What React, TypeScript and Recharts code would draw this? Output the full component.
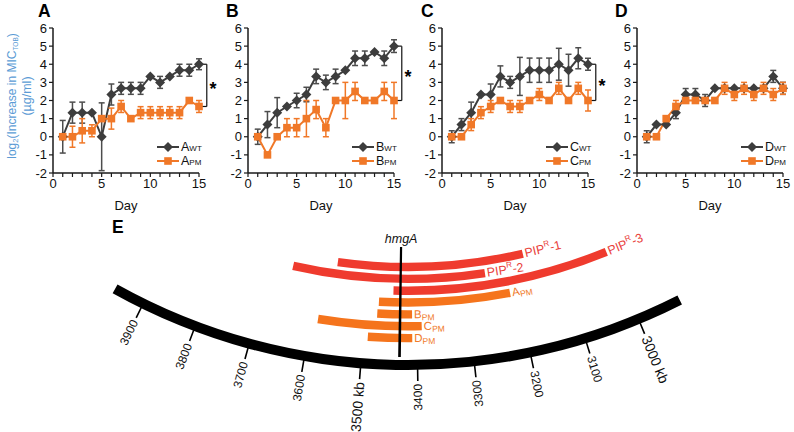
import React from 'react';
import {
  LineChart,
  Line,
  XAxis,
  YAxis,
  ErrorBar,
  ReferenceLine,
  ReferenceDot,
  PieChart,
  Pie,
} from 'recharts';

const FONT = '"Liberation Sans", Arial, Helvetica, sans-serif';

// ---------------- data: panels A-D ----------------
const days = [1, 2, 3, 4, 5, 6, 7, 8, 9, 10, 11, 12, 13, 14, 15];
const xTicks = [0, 1, 2, 3, 4, 5, 6, 7, 8, 9, 10, 11, 12, 13, 14, 15];
const yTicks = [-2, -1, 0, 1, 2, 3, 4, 5, 6];

const aWT = [0, 1.33, 1.33, 1.33, 0, 2.33, 2.67, 2.67, 2.67, 3.33, 3, 3.33, 3.67, 3.67, 4];
const aWTErr = [0.9, 0.58, 0.58, 0, 1.87, 0.58, 0.33, 0.33, 0.33, 0, 0.33, 0, 0.33, 0.33, 0.3];
const aPM = [0, 0, 0.33, 0.33, 1, 1, 1.67, 1, 1.33, 1.33, 1.33, 1.33, 1.33, 2, 1.67];
const aPMErr = [0, 0.58, 0.67, 0.33, 0, 0.58, 0.33, 0, 0.33, 0.33, 0.33, 0.33, 0.33, 0, 0.33];

const bWT = [0, 0.67, 1.33, 1.67, 2, 2.33, 3.33, 3, 3.33, 3.67, 4.33, 4.33, 4.67, 4.33, 5];
const bWTErr = [0.42, 0.72, 0.83, 0, 0.4, 0.4, 0.4, 0.4, 0.4, 0, 0.4, 0.4, 0, 0.4, 0.35];
const bPM = [0, -1, 0, 0.5, 0.5, 1, 1.5, 0.5, 2, 2, 2.5, 2, 2, 2.5, 2];
const bPMErr = [0, 0, 0, 0.5, 0.5, 1, 0.5, 0.5, 0, 1, 0.5, 0, 0, 0.5, 1];

const cWT = [0, 0.67, 1.33, 2.33, 2.33, 3.33, 3, 3.33, 3.67, 3.67, 3.67, 4, 3.67, 4.33, 4];
const cWTErr = [0.33, 0.33, 0.58, 0, 0.58, 0.58, 0.33, 1.05, 0.67, 0.67, 0.67, 0.88, 0.88, 0.58, 0.33];
const cPM = [0, 0, 0.67, 1.33, 1.67, 2, 1.67, 1.67, 2, 2.33, 2, 2.67, 2, 2.67, 2];
const cPMErr = [0, 0, 0.33, 0.33, 0.33, 0, 0.33, 0.33, 0, 0.33, 0, 0.33, 0, 0.33, 0.58];

const dWT = [0, 0.67, 0.67, 1.33, 2.33, 2.33, 2, 2.67, 2.67, 2.67, 2.67, 2.67, 2.67, 3.33, 2.67];
const dWTErr = [0.33, 0, 0, 0.33, 0.33, 0.33, 0.33, 0, 0, 0, 0, 0, 0, 0.33, 0.33];
const dPM = [0, 0, 1, 1.67, 2, 2, 2, 2, 2.67, 2.33, 2.67, 2.33, 2.67, 2.33, 2.67];
const dPMErr = [0, 0, 0, 0.33, 0, 0, 0, 0, 0.33, 0.33, 0.33, 0.33, 0.33, 0.33, 0.33];

const panelLetters = ['A', 'B', 'C', 'D'];
const panelWT = [aWT, bWT, cWT, dWT];
const panelWTErr = [aWTErr, bWTErr, cWTErr, dWTErr];
const panelPM = [aPM, bPM, cPM, dPM];
const panelPMErr = [aPMErr, bPMErr, cPMErr, dPMErr];
const panelSignificant = [true, true, true, false];

// ---------------- data: panel E ----------------
const genomeStartKb = 3956;
const genomeEndKb = 2920;
const genomeTicksKb = [3900, 3800, 3700, 3600, 3500, 3400, 3300, 3200, 3100, 3000];
const genomeTickText = ['3900', '3800', '3700', '3600', '3500 kb', '3400', '3300', '3200', '3100', '3000 kb'];
const hmgAKb = 3432;

const arcBase = ['PIP', 'PIP', 'PIP', 'A', 'B', 'C', 'D'];
const arcSup = ['R', 'R', 'R', '', '', '', ''];
const arcSuffix = ['-1', '-2', '-3', '', '', '', ''];
const arcSub = ['', '', '', 'PM', 'PM', 'PM', 'PM'];
const arcStartKb = [3565, 3655, 3446, 3474, 3476, 3587, 3491];
const arcEndKb = [3173, 3258, 3008, 3215, 3409, 3391, 3409];

// ---------------- style / layout ----------------
const WT_COLOR = '#3d3d3d';
const WT_ERR = '#4d4d4d';
const PM_COLOR = '#f07828';
const RED_ARC = '#ef3b2e';
const ORANGE_ARC = '#f5741c';
const RED_TEXT = '#e9403a';
const ORANGE_TEXT = '#f07a2a';
const AXIS_BLUE = '#5b9bd5';

const plotLefts = [53, 248, 442, 637];
const PLOT_W = 146;
const CH_W = 230;
const CH_H = 220;
const Y_AXIS_W = 30;

// genome circle geometry (layout)
const G_CX = 408;
const G_CY = -236;
const ANG_AT_3500 = -94.5;
const DEG_PER_KB = 0.0541;
const kbToAngle = (kb: number) => ANG_AT_3500 - (kb - 3500) * DEG_PER_KB;
const ringRadius = (i: number) => 503 + i * 11.85;
const RING_HALF = 4.2;

const RAD = Math.PI / 180;
const polar = (cx: number, cy: number, r: number, deg: number) => ({
  x: cx + r * Math.cos(-deg * RAD),
  y: cy + r * Math.sin(-deg * RAD),
});

// ---------------- markers ----------------
const Diamond = (props: any) => {
  const { cx, cy, index } = props;
  if (cx == null || cy == null) return <g key={`dn-${index}`} />;
  const s = 5;
  return (
    <polygon
      key={`dia-${index}`}
      points={`${cx},${cy - s} ${cx + s},${cy} ${cx},${cy + s} ${cx - s},${cy}`}
      fill={WT_COLOR}
    />
  );
};

const Square = (props: any) => {
  const { cx, cy, index } = props;
  if (cx == null || cy == null) return <g key={`sn-${index}`} />;
  const s = 3.8;
  return <rect key={`sq-${index}`} x={cx - s} y={cy - s} width={2 * s} height={2 * s} fill={PM_COLOR} />;
};

// ---------------- panel ----------------
function GrowthPanel({ idx }: { idx: number }) {
  const wt = panelWT[idx];
  const wtErr = panelWTErr[idx];
  const pm = panelPM[idx];
  const pmErr = panelPMErr[idx];
  const rows = days.map((d, i) => ({ day: d, wt: wt[i], wtErr: wtErr[i], pm: pm[i], pmErr: pmErr[i] }));
  const plotLeft = plotLefts[idx];
  const chartLeft = plotLeft - 53;
  const last = days.length - 1;
  const top = wt[last];
  const bottom = pm[last];
  const bx = 15.8;
  const bx0 = 15.3;
  return (
    <div style={{ position: 'absolute', left: chartLeft, top: 0 }}>
      <LineChart
        width={CH_W}
        height={CH_H}
        data={rows}
        margin={{ top: 28, right: CH_W - 53 - PLOT_W, bottom: 7, left: 53 - Y_AXIS_W }}
      >
        <XAxis
          dataKey="day"
          type="number"
          domain={[0, 15]}
          ticks={xTicks}
          interval={0}
          tickFormatter={(v: number) => (v % 5 === 0 ? String(v) : '')}
          height={40}
          axisLine={{ stroke: '#1a1a1a', strokeWidth: 1.5 }}
          tickLine={{ stroke: '#1a1a1a', strokeWidth: 1.2 }}
          tickSize={4}
          tickMargin={2}
          tick={{ fontSize: 13, fill: '#111' }}
          label={{ value: 'Day', position: 'insideBottom', offset: 3, fill: '#111', fontSize: 13 }}
        />
        <YAxis
          type="number"
          domain={[-2, 6]}
          ticks={yTicks}
          interval={0}
          width={Y_AXIS_W}
          axisLine={{ stroke: '#1a1a1a', strokeWidth: 1.5 }}
          tickLine={{ stroke: '#1a1a1a', strokeWidth: 1.2 }}
          tickSize={4}
          tickMargin={2}
          tick={{ fontSize: 13, fill: '#111' }}
        />
        <Line
          dataKey="wt"
          stroke={WT_COLOR}
          strokeWidth={2}
          dot={Diamond}
          activeDot={false}
          isAnimationActive={false}
        >
          <ErrorBar dataKey="wtErr" direction="y" width={3} strokeWidth={1.5} stroke={WT_ERR} />
        </Line>
        <Line
          dataKey="pm"
          stroke={PM_COLOR}
          strokeWidth={2}
          dot={Square}
          activeDot={false}
          isAnimationActive={false}
        >
          <ErrorBar dataKey="pmErr" direction="y" width={3} strokeWidth={1.5} stroke={PM_COLOR} />
        </Line>
        {panelSignificant[idx] && (
          <ReferenceLine
            segment={[{ x: bx, y: top }, { x: bx, y: bottom }]}
            stroke="#111"
            strokeWidth={1.2}
            ifOverflow="visible"
          />
        )}
        {panelSignificant[idx] && (
          <ReferenceLine
            segment={[{ x: bx0, y: top }, { x: bx, y: top }]}
            stroke="#111"
            strokeWidth={1.2}
            ifOverflow="visible"
          />
        )}
        {panelSignificant[idx] && (
          <ReferenceLine
            segment={[{ x: bx0, y: bottom }, { x: bx, y: bottom }]}
            stroke="#111"
            strokeWidth={1.2}
            ifOverflow="visible"
          />
        )}
        {panelSignificant[idx] && (
          <ReferenceDot
            x={bx + 0.65}
            y={(top + bottom) / 2 - 0.2}
            r={0}
            fill="none"
            stroke="none"
            ifOverflow="visible"
            label={{ value: '*', position: 'center', fontSize: 18, fontWeight: 700, fill: '#000' }}
          />
        )}
      </LineChart>
      <Legend letter={panelLetters[idx]} />
    </div>
  );
}

function LegendRow({ letter, kind, top }: { letter: string; kind: 'WT' | 'PM'; top: number }) {
  const color = kind === 'WT' ? WT_COLOR : PM_COLOR;
  return (
    <div
      style={{
        position: 'absolute',
        left: 0,
        top,
        height: 14,
        display: 'flex',
        alignItems: 'center',
        whiteSpace: 'nowrap',
      }}
    >
      <svg width={22} height={12} style={{ display: 'block' }}>
        <line x1={0} y1={6} x2={22} y2={6} stroke={color} strokeWidth={2} />
        {kind === 'WT' ? (
          <polygon points="11,1 16,6 11,11 6,6" fill={color} />
        ) : (
          <rect x={7.2} y={2.2} width={7.6} height={7.6} fill={color} />
        )}
      </svg>
      <span style={{ marginLeft: 2, fontSize: 12.5, lineHeight: '12px' }}>{letter}</span>
      <span style={{ fontSize: 8, lineHeight: '8px', position: 'relative', top: 1.5 }}>{kind}</span>
    </div>
  );
}

function Legend({ letter }: { letter: string }) {
  return (
    <div style={{ position: 'absolute', left: 53 + 104, top: 140, color: '#111', width: 60, height: 28 }}>
      <LegendRow letter={letter} kind="WT" top={0} />
      <LegendRow letter={letter} kind="PM" top={14} />
    </div>
  );
}

// ---------------- panel E labels ----------------
const renderTickLabel = (props: any) => {
  const d = props.payload ?? props;
  const ang = props.midAngle;
  const p = polar(props.cx, props.cy, props.outerRadius + 3, ang);
  const th = ang * RAD;
  const inward = d.kb >= 3300;
  const rot = inward
    ? Math.atan2(Math.sin(th), -Math.cos(th)) / RAD
    : Math.atan2(-Math.sin(th), Math.cos(th)) / RAD;
  const big = String(d.text).indexOf('kb') >= 0;
  return (
    <text
      key={`tl-${d.kb}`}
      x={p.x}
      y={p.y}
      transform={`rotate(${rot} ${p.x} ${p.y})`}
      textAnchor={inward ? 'end' : 'start'}
      dominantBaseline="central"
      fontSize={big ? 14 : 12}
      fill="#111"
      fontFamily={FONT}
    >
      {d.text}
    </text>
  );
};

const renderArcLabel = (props: any) => {
  const d = props.payload ?? props;
  const ang = props.endAngle;
  const r = (props.innerRadius + props.outerRadius) / 2;
  const th = ang * RAD;
  const tx = -Math.sin(th);
  const ty = -Math.cos(th);
  const base = polar(props.cx, props.cy, r, ang);
  const gap = 2;
  const x = base.x + tx * gap;
  const y = base.y + ty * gap;
  const rot = Math.atan2(ty, tx) / RAD;
  const isPip = d.sup !== '';
  return (
    <text
      key={`al-${d.base}-${d.suffix}`}
      x={x}
      y={y}
      transform={`rotate(${rot} ${x} ${y})`}
      textAnchor="start"
      dominantBaseline="central"
      fontSize={isPip ? 12.5 : 11.5}
      fill={isPip ? RED_TEXT : ORANGE_TEXT}
      fontFamily={FONT}
    >
      {d.base}
      {isPip ? (
        <>
          <tspan dy={-5} fontSize={8}>
            {d.sup}
          </tspan>
          <tspan dy={5}>{d.suffix}</tspan>
        </>
      ) : (
        <tspan dy={3} fontSize={8.5}>
          {d.sub}
        </tspan>
      )}
    </text>
  );
};

const renderHmgALabel = (props: any) => {
  const p = polar(props.cx, props.cy, props.innerRadius - 4, props.midAngle);
  return (
    <text
      key="hmga"
      x={p.x}
      y={p.y}
      textAnchor="middle"
      fontSize={12.5}
      fontStyle="italic"
      fill="#111"
      fontFamily={FONT}
    >
      hmgA
    </text>
  );
};

function GenomeMap() {
  const tickHalf = 0.075;
  const hmgHalf = 0.13;
  const hmgAng = kbToAngle(hmgAKb);
  return (
    <div style={{ position: 'absolute', left: 0, top: 0 }}>
      <PieChart width={794} height={432} margin={{ top: 0, right: 0, bottom: 0, left: 0 }}>
        <Pie
          data={[{ name: 'genome', value: 1 }]}
          dataKey="value"
          cx={G_CX}
          cy={G_CY}
          innerRadius={596}
          outerRadius={606}
          startAngle={kbToAngle(genomeStartKb)}
          endAngle={kbToAngle(genomeEndKb)}
          fill="#000"
          stroke="none"
          isAnimationActive={false}
        />
        {genomeTicksKb.map((kb, i) => (
          <Pie
            key={`tick-${kb}`}
            data={[{ name: genomeTickText[i], value: 1, kb, text: genomeTickText[i] }]}
            dataKey="value"
            cx={G_CX}
            cy={G_CY}
            innerRadius={605}
            outerRadius={617}
            startAngle={kbToAngle(kb) - tickHalf}
            endAngle={kbToAngle(kb) + tickHalf}
            fill="#000"
            stroke="none"
            label={renderTickLabel}
            labelLine={false}
            isAnimationActive={false}
          />
        ))}
        {arcBase.map((b, i) => (
          <Pie
            key={`arc-${i}`}
            data={[
              {
                name: `${b}${arcSup[i]}${arcSuffix[i]}${arcSub[i]}`,
                value: 1,
                base: b,
                sup: arcSup[i],
                suffix: arcSuffix[i],
                sub: arcSub[i],
              },
            ]}
            dataKey="value"
            cx={G_CX}
            cy={G_CY}
            innerRadius={ringRadius(i) - RING_HALF}
            outerRadius={ringRadius(i) + RING_HALF}
            startAngle={kbToAngle(arcStartKb[i])}
            endAngle={kbToAngle(arcEndKb[i])}
            fill={arcSup[i] !== '' ? RED_ARC : ORANGE_ARC}
            stroke="none"
            label={renderArcLabel}
            labelLine={false}
            isAnimationActive={false}
          />
        ))}
        <Pie
          data={[{ name: 'hmgA', value: 1 }]}
          dataKey="value"
          cx={G_CX}
          cy={G_CY}
          innerRadius={483}
          outerRadius={593}
          startAngle={hmgAng - hmgHalf}
          endAngle={hmgAng + hmgHalf}
          fill="#000"
          stroke="none"
          label={renderHmgALabel}
          labelLine={false}
          isAnimationActive={false}
        />
      </PieChart>
    </div>
  );
}

function Overlay() {
  const letterX = [38, 226, 421, 615];
  return (
    <svg
      width={794}
      height={432}
      style={{ position: 'absolute', left: 0, top: 0, pointerEvents: 'none' }}
      fontFamily={FONT}
    >
      {panelLetters.map((l, i) => (
        <text key={l} x={letterX[i]} y={17} fontSize={17.5} fontWeight={700} fill="#000">
          {l}
        </text>
      ))}
      <text x={112} y={233} fontSize={17.5} fontWeight={700} fill="#000">
        E
      </text>
      <text
        x={12}
        y={96}
        transform="rotate(-90 12 96)"
        textAnchor="middle"
        dominantBaseline="central"
        fontSize={12}
        fill={AXIS_BLUE}
      >
        log
        <tspan fontSize={7.5} dy={3}>
          2
        </tspan>
        <tspan dy={-3}>(Increase in MIC</tspan>
        <tspan fontSize={6.5} dy={3}>
          TOB
        </tspan>
        <tspan dy={-3}>)</tspan>
      </text>
      <text
        x={27}
        y={96}
        transform="rotate(-90 27 96)"
        textAnchor="middle"
        dominantBaseline="central"
        fontSize={12.5}
        fill={AXIS_BLUE}
      >
        (µg/ml)
      </text>
    </svg>
  );
}

export default function App() {
  return (
    <div
      style={{
        position: 'absolute',
        left: 0,
        top: 0,
        width: 794,
        height: 432,
        overflow: 'hidden',
        background: '#fff',
        fontFamily: FONT,
      }}
    >
      <GenomeMap />
      {panelLetters.map((_, i) => (
        <GrowthPanel key={i} idx={i} />
      ))}
      <Overlay />
    </div>
  );
}
